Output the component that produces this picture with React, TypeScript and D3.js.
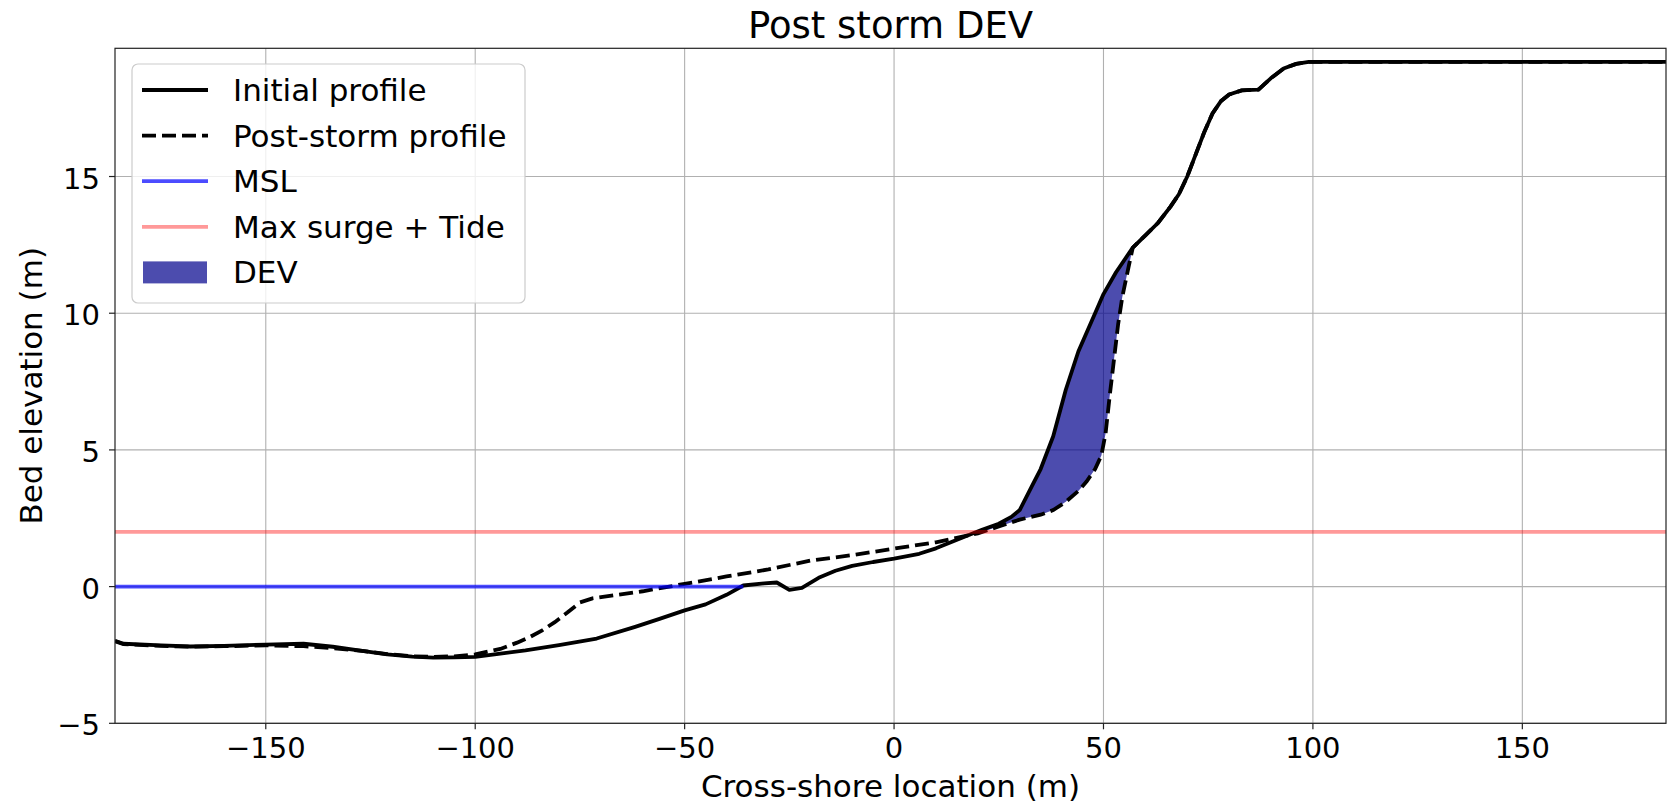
import * as d3 from 'd3'

// cross-shore profile
const initialX = [-186, -184, -175, -168, -160, -150, -141, -134, -127, -121, -115, -110, -105, -100, -94, -88, -80, -71, -62, -56, -50, -45, -40, -36, -31, -28, -25, -22, -18, -14, -10, -5, 0, 6, 10, 14, 18, 21, 25, 28, 30, 33, 35, 38, 41, 44, 48, 50, 53, 57, 60, 63, 66, 68, 70, 72, 74, 76, 78, 80, 83, 87, 90, 93, 96, 99, 120, 150, 184.3]
const initialZ = [-1.98, -2.09, -2.15, -2.19, -2.17, -2.12, -2.09, -2.2, -2.35, -2.48, -2.56, -2.6, -2.59, -2.57, -2.45, -2.33, -2.14, -1.9, -1.48, -1.18, -0.87, -0.65, -0.3, 0.04, 0.12, 0.15, -0.12, -0.05, 0.32, 0.58, 0.76, 0.9, 1.02, 1.2, 1.4, 1.65, 1.9, 2.08, 2.3, 2.55, 2.8, 3.7, 4.3, 5.5, 7.2, 8.6, 10.0, 10.7, 11.5, 12.4, 12.85, 13.3, 13.9, 14.35, 15.0, 15.8, 16.6, 17.3, 17.75, 18.0, 18.15, 18.18, 18.6, 18.95, 19.12, 19.19, 19.19, 19.19, 19.19]

const postX = [-186, -184, -175, -168, -160, -150, -141, -134, -127, -121, -115, -110, -105, -100, -94, -90, -87, -84, -81, -78, -75, -72, -66, -60, -50, -40, -30, -20, -10, 0, 10, 20, 25, 30, 35, 38, 41, 44, 46, 48, 49.5, 50.5, 51.5, 52.5, 53.5, 54.5, 56, 57, 60, 63, 66, 68, 70, 72, 74, 76, 78, 80, 83, 87, 90, 93, 96, 99, 120, 150, 184.3]
const postZ = [-2.0, -2.1, -2.17, -2.2, -2.18, -2.15, -2.18, -2.25, -2.35, -2.47, -2.55, -2.57, -2.55, -2.48, -2.28, -2.05, -1.85, -1.6, -1.3, -0.95, -0.58, -0.43, -0.3, -0.17, 0.1, 0.37, 0.63, 0.95, 1.15, 1.39, 1.62, 1.95, 2.2, 2.45, 2.63, 2.8, 3.1, 3.5, 3.85, 4.3, 4.8, 5.6, 7.0, 8.3, 9.6, 10.6, 11.7, 12.4, 12.85, 13.3, 13.9, 14.35, 15.0, 15.8, 16.6, 17.3, 17.75, 18.0, 18.15, 18.18, 18.6, 18.95, 19.12, 19.19, 19.19, 19.19, 19.19]

const xTicks = [-150, -100, -50, 0, 50, 100, 150]
const yTicks = [-5, 0, 5, 10, 15]
const xLimits = [-186, 184.3]
const yLimits = [-5, 19.69]

const mslLevel = 0
const mslEndX = -36
const surgeLevel = 2
const devStartX = 20
const devEndX = 57

const legendLabels = ['Initial profile', 'Post-storm profile', 'MSL', 'Max surge + Tide', 'DEV']

const W = 1668, H = 804
const margin = { left: 115, right: 2, top: 48.3, bottom: 80.7 }
const FONT = '"DejaVu Sans", sans-serif'
const LW = 3.8
const DASH = '14,6'

const App = () => {
  const x = d3.scaleLinear().domain(xLimits).range([margin.left, W - margin.right])
  const y = d3.scaleLinear().domain(yLimits).range([H - margin.bottom, margin.top])

  const toPts = (xs: number[], zs: number[]) => xs.map((v, i) => [v, zs[i]] as [number, number])
  const initPts = toPts(initialX, initialZ)
  const postPts = toPts(postX, postZ)

  const line = d3.line<[number, number]>().x(d => x(d[0])).y(d => y(d[1]))

  // DEV polygon: initial going landward, post-storm coming back
  const devPts = [
    ...initPts.filter(d => d[0] >= devStartX && d[0] <= devEndX),
    ...postPts.filter(d => d[0] >= devStartX && d[0] <= devEndX).reverse(),
  ]
  const devPath = line(devPts) + 'Z'

  const [x0, x1] = x.range()
  const [yb, yt] = y.range()
  const fmt = d3.format('d')

  const lgX = 132, lgY = 64, rowH = 45.6, row0 = 90

  return (
    <svg width={W} height={H} style={{ position: 'absolute', left: 0, top: 0, background: '#fff' }}>
      <defs>
        <clipPath id="plotArea">
          <rect x={x0} y={yt} width={x1 - x0} height={yb - yt} />
        </clipPath>
      </defs>
      <rect x={0} y={0} width={W} height={H} fill="#fff" />

      {/* grid */}
      <g stroke="#b0b0b0" strokeWidth={1.1}>
        {xTicks.map(t => <line key={'gx' + t} x1={x(t)} x2={x(t)} y1={yt} y2={yb} />)}
        {yTicks.map(t => <line key={'gy' + t} x1={x0} x2={x1} y1={y(t)} y2={y(t)} />)}
      </g>

      <g clipPath="url(#plotArea)">
        <path d={devPath} fill="darkblue" fillOpacity={0.7} stroke="none" />
        <path d={line(initPts) ?? ''} fill="none" stroke="#000" strokeWidth={LW} strokeLinejoin="round" />
        <path d={line(postPts) ?? ''} fill="none" stroke="#000" strokeWidth={LW} strokeDasharray={DASH} />
        <line x1={x(xLimits[0])} x2={x(mslEndX)} y1={y(mslLevel)} y2={y(mslLevel)} stroke="blue" strokeOpacity={0.7} strokeWidth={LW} />
        <line x1={x0} x2={x1} y1={y(surgeLevel)} y2={y(surgeLevel)} stroke="red" strokeOpacity={0.4} strokeWidth={LW} />
      </g>

      {/* frame */}
      <rect x={x0} y={yt} width={x1 - x0} height={yb - yt} fill="none" stroke="#222" strokeWidth={1.2} />

      {/* axes */}
      <g fontFamily={FONT} fontSize={29} fill="#000">
        {xTicks.map(t => (
          <g key={'xt' + t}>
            <line x1={x(t)} x2={x(t)} y1={yb} y2={yb + 6} stroke="#222" strokeWidth={1.2} />
            <text x={x(t)} y={758} textAnchor="middle">{fmt(t)}</text>
          </g>
        ))}
        {yTicks.map(t => (
          <g key={'yt' + t}>
            <line x1={x0 - 6} x2={x0} y1={y(t)} y2={y(t)} stroke="#222" strokeWidth={1.2} />
            <text x={100} y={y(t) + 12} textAnchor="end">{fmt(t)}</text>
          </g>
        ))}
      </g>

      <text x={(x0 + x1) / 2} y={38} textAnchor="middle" fontFamily={FONT} fontSize={37}>Post storm DEV</text>
      <text x={(x0 + x1) / 2} y={797} textAnchor="middle" fontFamily={FONT} fontSize={31}>Cross-shore location (m)</text>
      <text transform={`translate(42,${(yb + yt) / 2}) rotate(-90)`} textAnchor="middle" fontFamily={FONT} fontSize={31}>Bed elevation (m)</text>

      {/* legend */}
      <g fontFamily={FONT} fontSize={31}>
        <rect x={lgX} y={lgY} width={393} height={239} rx={6} fill="#fff" fillOpacity={0.8} stroke="#cccccc" strokeWidth={1.2} />
        {legendLabels.map((lab, i) => {
          const cy = row0 + i * rowH
          let handle
          if (i === 0) handle = <line x1={142} x2={208} y1={cy} y2={cy} stroke="#000" strokeWidth={LW} />
          else if (i === 1) handle = <line x1={142} x2={208} y1={cy} y2={cy} stroke="#000" strokeWidth={LW} strokeDasharray={DASH} />
          else if (i === 2) handle = <line x1={142} x2={208} y1={cy} y2={cy} stroke="blue" strokeOpacity={0.7} strokeWidth={LW} />
          else if (i === 3) handle = <line x1={142} x2={208} y1={cy} y2={cy} stroke="red" strokeOpacity={0.4} strokeWidth={LW} />
          else handle = <rect x={143} y={cy - 11} width={64} height={22} fill="darkblue" fillOpacity={0.7} />
          return (
            <g key={lab}>
              {handle}
              <text x={233} y={cy + 11}>{lab}</text>
            </g>
          )
        })}
      </g>
    </svg>
  )
}

export default App
